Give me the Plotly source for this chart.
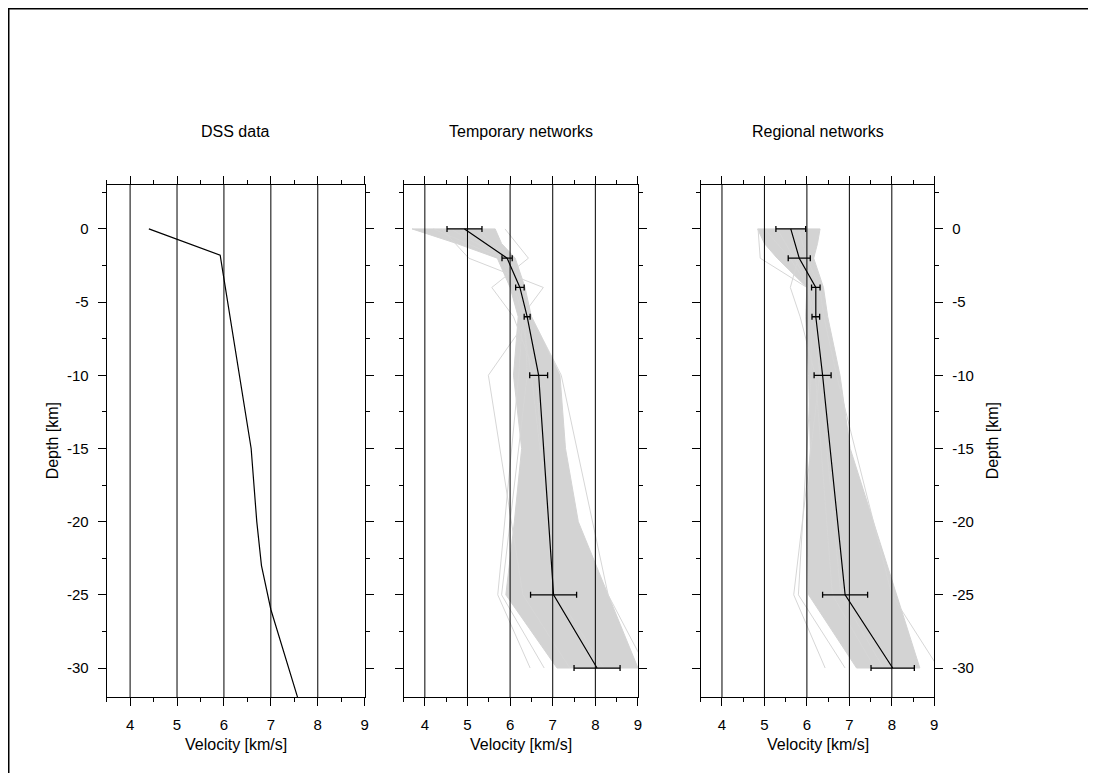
import plotly.graph_objects as go

# ---------------- data ----------------
panel_titles = ["DSS data", "Temporary networks", "Regional networks"]

dss_depth = [0, -1.8, -3, -15, -20, -23, -26, -32]
dss_vel = [4.40, 5.92, 5.98, 6.58, 6.70, 6.80, 7.00, 7.57]

node_depth = [0, -2, -4, -6, -10, -25, -30]
temp_mean = [4.93, 5.93, 6.23, 6.40, 6.67, 7.02, 8.04]
temp_err = [0.41, 0.12, 0.10, 0.07, 0.21, 0.54, 0.54]
reg_mean = [5.62, 5.82, 6.21, 6.21, 6.37, 6.90, 8.02]
reg_err = [0.35, 0.26, 0.10, 0.09, 0.20, 0.53, 0.51]

# envelope of the ensemble of individual models (grey band)
env_depth = [0, -1, -2, -4, -6, -10, -15, -20, -25, -30]
temp_left = [3.70, 4.75, 5.70, 6.00, 6.19, 6.08, 6.27, 6.10, 5.90, 7.10]
temp_right = [5.65, 5.80, 6.12, 6.35, 6.50, 7.17, 7.30, 7.60, 8.30, 9.00]
reg_left = [4.84, 5.00, 5.30, 6.00, 5.97, 6.04, 6.08, 6.00, 6.04, 7.17]
reg_right = [6.31, 6.25, 6.16, 6.39, 6.49, 6.78, 7.02, 7.57, 8.11, 8.66]

# individual outlying models (velocities at node_depth)
temp_outliers = [
    [5.88, 6.43, 5.57, 6.08, 6.60, 7.00, 8.00],
    [4.40, 5.03, 6.78, 6.27, 6.50, 7.10, 8.20],
    [4.80, 5.90, 6.20, 6.45, 5.49, 6.30, 7.40],
    [4.20, 5.80, 6.10, 6.30, 6.20, 5.71, 6.47],
    [5.20, 6.00, 6.30, 6.50, 7.20, 8.30, 9.20],
    [4.60, 5.85, 6.15, 6.35, 6.40, 5.80, 6.80],
]
reg_outliers = [
    [4.85, 4.90, 6.00, 6.20, 6.30, 6.80, 7.80],
    [5.60, 5.80, 5.61, 5.84, 6.20, 6.60, 7.60],
    [5.30, 5.70, 6.10, 6.20, 6.30, 5.69, 6.43],
    [5.80, 6.00, 6.30, 6.40, 6.70, 8.00, 9.10],
    [5.00, 5.60, 6.05, 6.10, 6.10, 5.80, 6.90],
]

x_ticks = [4, 5, 6, 7, 8, 9]
grid_vals = [4, 5, 6, 7, 8]
y_ticks = [0, -5, -10, -15, -20, -25, -30]
y_ticktext = ["0", "-5", "-10", "-15", "-20", "-25", "-30"]

# ---------------- layout geometry ----------------
# the page body adds an 8px margin, so the figure itself is 8px smaller
OFF = 8
W, H = 1096 - OFF, 773 - OFF


def px(x):
    return (x - OFF) / W


def py(y):
    return 1 - (y - OFF) / H


FONT = "Liberation Sans, Arial, Helvetica, sans-serif"
GREY = "#d3d3d3"
x_domains = [[px(107), px(366)], [px(405), px(640.3)], [px(703.3), px(937.7)]]
y_domain = [py(697.3), py(185)]

fig = go.Figure()

# panel 1: DSS
fig.add_trace(go.Scatter(x=dss_vel, y=dss_depth, mode="lines",
                         line=dict(color="black", width=1.2),
                         xaxis="x", yaxis="y", showlegend=False))


def add_ensemble(xa, ya, left, right, outliers, mean, err):
    poly_x = left + right[::-1] + [left[0]]
    poly_y = env_depth + env_depth[::-1] + [env_depth[0]]
    fig.add_trace(go.Scatter(x=poly_x, y=poly_y, mode="lines", fill="toself",
                             fillcolor=GREY, line=dict(color=GREY, width=1),
                             xaxis=xa, yaxis=ya, showlegend=False, hoverinfo="skip"))
    for o in outliers:
        fig.add_trace(go.Scatter(x=o, y=node_depth, mode="lines",
                                 line=dict(color="#d6d6d6", width=1),
                                 xaxis=xa, yaxis=ya, showlegend=False, hoverinfo="skip"))
    fig.add_trace(go.Scatter(x=mean, y=node_depth, mode="lines",
                             line=dict(color="black", width=1.2),
                             error_x=dict(type="data", array=err, color="black",
                                          thickness=1.3, width=3),
                             xaxis=xa, yaxis=ya, showlegend=False))


add_ensemble("x2", "y2", temp_left, temp_right, temp_outliers, temp_mean, temp_err)
add_ensemble("x3", "y3", reg_left, reg_right, reg_outliers, reg_mean, reg_err)

xaxis_common = dict(range=[3.5, 9], tickmode="array", tickvals=x_ticks,
                    ticks="outside", ticklen=8, tickwidth=1, tickcolor="black",
                    showline=True, linecolor="black", linewidth=1, mirror="ticks",
                    showgrid=False, zeroline=False,
                    minor=dict(tickmode="linear", tick0=3.5, dtick=1, ticks="outside",
                               ticklen=4, tickwidth=1, tickcolor="black"),
                    tickfont=dict(family=FONT, size=15, color="black"),
                    ticklabelstandoff=6)
yaxis_common = dict(range=[-32, 3], tickmode="array", tickvals=y_ticks, ticktext=y_ticktext,
                    ticks="outside", ticklen=8, tickwidth=1, tickcolor="black",
                    showline=True, linecolor="black", linewidth=1, mirror="ticks",
                    showgrid=False, zeroline=False,
                    minor=dict(tickmode="linear", tick0=2.5, dtick=5, ticks="outside",
                               ticklen=4, tickwidth=1, tickcolor="black"),
                    tickfont=dict(family=FONT, size=15, color="black"),
                    ticklabelstandoff=6, domain=y_domain)

layout = dict(width=W, height=H, margin=dict(l=0, r=0, t=0, b=0),
              paper_bgcolor="white", plot_bgcolor="white", showlegend=False)
names = [("xaxis", "yaxis", "x", "y"), ("xaxis2", "yaxis2", "x2", "y2"),
         ("xaxis3", "yaxis3", "x3", "y3")]
for i, (xn, yn, xr, yr) in enumerate(names):
    layout[xn] = dict(xaxis_common, domain=x_domains[i], anchor=yr)
    ylay = dict(yaxis_common, anchor=xr)
    if i == 1:
        ylay["showticklabels"] = False
    if i == 2:
        ylay["side"] = "right"
    layout[yn] = ylay
fig.update_layout(**layout)

shapes = []
for i, (xn, yn, xr, yr) in enumerate(names):
    for g in grid_vals:
        shapes.append(dict(type="line", xref=xr, yref=yr + " domain", x0=g, x1=g, y0=0, y1=1,
                           line=dict(color="black", width=1), layer="above"))
# outer picture border
shapes.append(dict(type="rect", xref="paper", yref="paper", x0=px(8.5), x1=1.05,
                   y0=-0.05, y1=py(8.5), line=dict(color="black", width=2)))
fig.update_layout(shapes=shapes)

annotations = []
for i, t in enumerate(panel_titles):
    xc = sum(x_domains[i]) / 2
    annotations.append(dict(text=t, x=xc, y=py(132), xref="paper", yref="paper",
                            showarrow=False, xanchor="center", yanchor="middle",
                            font=dict(family=FONT, size=16, color="black")))
    annotations.append(dict(text="Velocity [km/s]", x=xc, y=py(744), xref="paper",
                            yref="paper", showarrow=False, xanchor="center", yanchor="middle",
                            font=dict(family=FONT, size=16, color="black")))
for xp in [px(52.5), px(996)]:
    annotations.append(dict(text="Depth [km]", x=xp, y=py(441), xref="paper", yref="paper",
                            showarrow=False, textangle=-90, xanchor="center", yanchor="middle",
                            font=dict(family=FONT, size=16, color="black")))
fig.update_layout(annotations=annotations)

fig.write_html("out.html")
